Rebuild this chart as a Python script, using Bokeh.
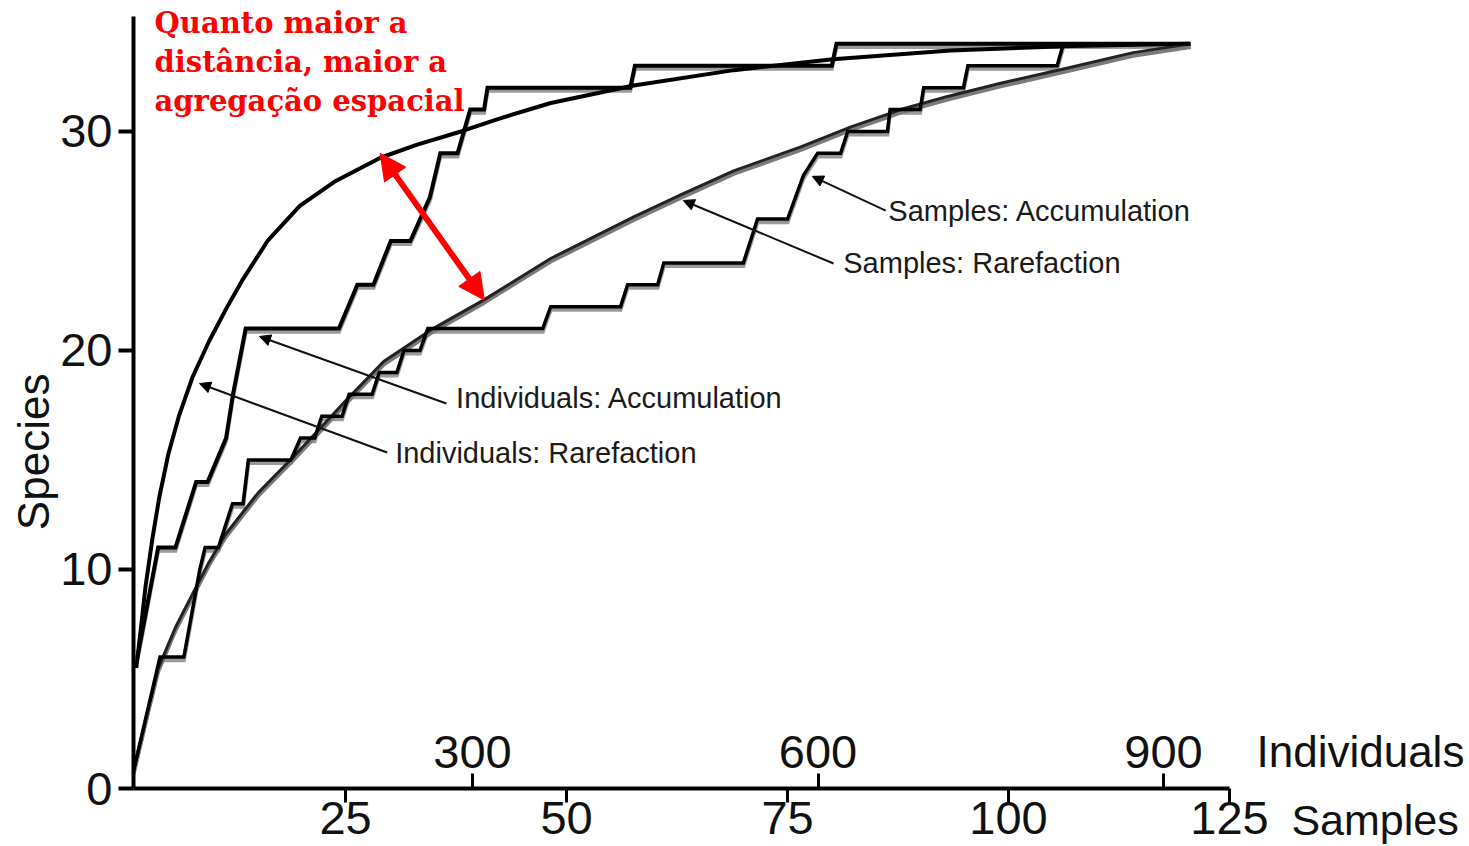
from math import pi

from bokeh.plotting import figure
from bokeh.models import Range1d, LinearAxis, FixedTicker, Label, Arrow, NormalHead
from bokeh.embed import file_html
from bokeh.resources import INLINE

# ---- individual-based curves (x in individuals) ----
IND_RARE_N = [8, 12, 16, 22, 28, 36, 45, 57, 71, 86, 100, 122, 150, 180, 220, 252,
              290, 324, 368, 440, 527, 613, 715, 820, 923]
IND_RARE_S = [5.5, 7.3, 9.2, 11.4, 13.3, 15.3, 17.0, 18.8, 20.4, 21.9, 23.2, 25.0, 26.6,
              27.7, 28.8, 29.4, 30.0, 30.6, 31.3, 32.1, 32.8, 33.3, 33.7, 33.9, 34.0]

IND_ACC_N = [9, 27, 42, 60, 70, 86, 92, 103, 184, 200, 214, 229, 246, 263, 272, 287,
             298, 310, 313, 437, 441, 612, 616, 923]
IND_ACC_S = [6, 11, 11, 14, 14, 16, 18, 21, 21, 23, 23, 25, 25, 27, 29, 29,
             31, 31, 32, 32, 33, 33, 34, 34]

# ---- sample-based curves (x in samples) ----
SMP_RARE_X = [1, 2.4, 3.8, 5.8, 7.7, 9.5, 11.4, 15.1, 19.0, 22.7, 25.0, 29.3, 34.9,
              40.6, 48.2, 57.6, 62.9, 68.9, 76.5, 82.1, 87.8, 93.1, 99.1, 106.7, 114.1, 120.6]
SMP_RARE_S = [0.8, 3.2, 5.5, 7.4, 8.9, 10.3, 11.6, 13.5, 15.1, 16.7, 17.7, 19.5, 21.0,
              22.3, 24.2, 26.1, 27.1, 28.2, 29.3, 30.2, 31.0, 31.6, 32.2, 32.9, 33.6, 34.0]

SMP_ACC_X = [1, 4.0, 6.7, 8.5, 9.1, 10.6, 12.2, 13.4, 14.0, 18.8, 19.9, 21.5, 22.3, 24.6,
             25.4, 28.0, 28.8, 30.8, 31.6, 33.4, 34.3, 47.3, 48.2, 56.1, 56.9, 60.3, 61.0,
             70.0, 71.6, 75.0, 76.8, 78.4, 81.0, 81.8, 86.3, 86.6, 90.0, 90.4, 94.9, 95.4,
             105.5, 106.2, 120.6]
SMP_ACC_S = [0.8, 6, 6, 10, 11, 11, 13, 13, 15, 15, 16, 16, 17, 17,
             18, 18, 19, 19, 20, 20, 21, 21, 22, 22, 23, 23, 24,
             24, 26, 26, 28, 29, 29, 30, 30, 31, 31, 32, 32, 33,
             33, 34, 34]

Y_TICKS = [0, 10, 20, 30]
SAMPLE_TICKS = [25, 50, 75, 100, 125]
IND_TICKS = [300, 600, 900]

CURVE_LABELS = ["Samples: Accumulation", "Samples: Rarefaction",
                "Individuals: Accumulation", "Individuals: Rarefaction"]
NOTE_LINES = ["Quanto maior a", "distância, maior a", "agregação espacial"]

SANS = "Liberation Sans"
SERIF = "DejaVu Serif"

# data extents of the drawn axes
S_MIN, S_MAX = 1, 125          # samples
N_MIN, N_MAX = 5.6, 957.3      # individuals
Y_MIN, Y_MAX = 0, 35.25        # species

# the frame fills the whole canvas; axes are pinned inside it
X_VIEW = (-14.047, 152.15)
N_VIEW = (-109.89, 1165.7)
Y_VIEW = (-2.648, 35.98)
SHADE = 0.14  # small downward offset for the grey under-stroke

p = figure(width=1469, height=846,
           x_range=Range1d(*X_VIEW), y_range=Range1d(*Y_VIEW),
           x_axis_location=None, y_axis_location=None,
           output_backend="svg", toolbar_location=None,
           min_border=0, min_border_left=0, min_border_right=0,
           min_border_top=0, min_border_bottom=0)
p.extra_x_ranges = {"ind": Range1d(*N_VIEW)}
p.extra_y_ranges = {"shade": Range1d(Y_VIEW[0] + SHADE, Y_VIEW[1] + SHADE)}
p.outline_line_color = None
p.background_fill_color = "white"
p.border_fill_color = "white"
p.xgrid.visible = False
p.ygrid.visible = False
p.grid.visible = False


def style_axis(ax, tick_out, label_size, standoff, tick_width=3):
    ax.axis_line_width = 4
    ax.axis_line_color = "black"
    ax.major_tick_line_width = tick_width
    ax.major_tick_line_color = "black"
    ax.major_tick_out = tick_out
    ax.major_tick_in = 0
    ax.minor_tick_line_color = None
    ax.major_label_text_font = SANS
    ax.major_label_text_font_size = label_size
    ax.major_label_text_color = "#111111"
    ax.major_label_standoff = standoff


# ---- species axis ----
ya = LinearAxis(ticker=FixedTicker(ticks=Y_TICKS), fixed_location=S_MIN, bounds=(Y_MIN, Y_MAX))
style_axis(ya, 15, "47px", 6, tick_width=4)
p.add_layout(ya, "left")

# ---- samples axis (labels under the line) ----
sa = LinearAxis(ticker=FixedTicker(ticks=SAMPLE_TICKS), fixed_location=Y_MIN, bounds=(S_MIN, S_MAX))
style_axis(sa, 14, "47px", -1)
p.add_layout(sa, "below")

# ---- individuals axis (same line, ticks and labels pointing up) ----
ia = LinearAxis(x_range_name="ind", ticker=FixedTicker(ticks=IND_TICKS),
                fixed_location=Y_MIN, bounds=(N_MIN, N_MAX))
style_axis(ia, 15, "47px", 6)
ia.axis_line_color = None
p.add_layout(ia, "above")

# ---- curves: grey under-stroke, then black stroke ----
GREY = "#9a9a9a"
p.line(IND_ACC_N, IND_ACC_S, x_range_name="ind", y_range_name="shade",
       line_color=GREY, line_width=4, line_join="miter")
p.line(SMP_ACC_X, SMP_ACC_S, y_range_name="shade",
       line_color=GREY, line_width=4, line_join="miter")
p.line(SMP_RARE_X, SMP_RARE_S, y_range_name="shade",
       line_color="#7a7a7a", line_width=4)

p.line(IND_RARE_N, IND_RARE_S, x_range_name="ind",
       line_color="black", line_width=4)
p.line(IND_ACC_N, IND_ACC_S, x_range_name="ind",
       line_color="black", line_width=4, line_join="miter")
p.line(SMP_RARE_X, SMP_RARE_S, line_color="#222222", line_width=3)
p.line(SMP_ACC_X, SMP_ACC_S, line_color="black", line_width=3.5, line_join="miter")

# ---- callouts (samples / species coordinates) ----
callouts = [
    # (label x, label centre y, line start x, y, tip x, y)
    (86.4, 26.37, 86.1, 26.39, 77.8, 27.95),
    (81.3, 24.00, 80.2, 23.97, 63.2, 26.85),
    (37.5, 17.83, 36.4, 17.58, 15.25, 20.64),
    (30.6, 15.32, 29.7, 15.34, 8.47, 18.49),
]
for text, (lx, ly, sx, sy, ex, ey) in zip(CURVE_LABELS, callouts):
    p.add_layout(Arrow(end=NormalHead(size=11, fill_color="black", line_color="black", line_width=1),
                       x_start=sx, y_start=sy, x_end=ex, y_end=ey,
                       line_color="#111111", line_width=2))
    p.add_layout(Label(x=lx, y=ly, text=text, text_font=SANS, text_font_size="29px",
                       text_color="#1a1a1a", text_baseline="middle", text_align="left"))

# ---- red double arrow and note ----
p.add_layout(Arrow(start=NormalHead(size=26, fill_color="red", line_color="red", line_width=1),
                   end=NormalHead(size=26, fill_color="red", line_color="red", line_width=1),
                   x_start=28.9, y_start=29.0, x_end=40.7, y_end=22.3,
                   line_color="red", line_width=6))
for line_text, yc in zip(NOTE_LINES, [34.95, 33.17, 31.39]):
    p.add_layout(Label(x=3.38, y=yc, text=line_text, text_font=SERIF,
                       text_font_style="bold", text_font_size="29px", text_color="red",
                       text_baseline="middle", text_align="left"))

# ---- axis titles ----
p.add_layout(Label(x=128.05, y=1.667, text="Individuals", text_font=SANS,
                   text_font_size="44px", text_color="#111111", text_baseline="middle"))
p.add_layout(Label(x=132.0, y=-1.42, text="Samples", text_font=SANS,
                   text_font_size="43px", text_color="#111111", text_baseline="middle"))
p.add_layout(Label(x=-10.37, y=15.37, text="Species", text_font=SANS, angle=pi / 2,
                   text_font_size="44px", text_color="#111111",
                   text_baseline="middle", text_align="center"))

open("out.html", "w").write(file_html(p, INLINE))
